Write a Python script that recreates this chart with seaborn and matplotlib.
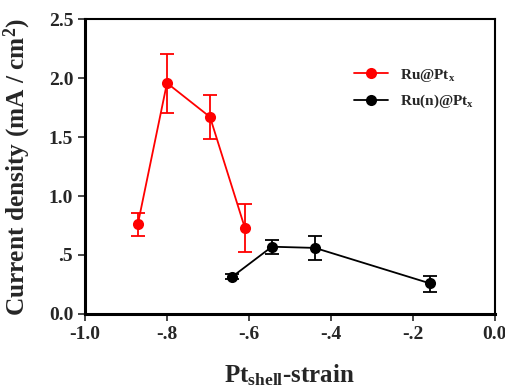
import numpy as np
import pandas as pd
import seaborn as sns
import matplotlib.pyplot as plt

# data
ru_x = [-0.871, -0.80, -0.695, -0.61]
ru_y = [0.763, 1.958, 1.67, 0.73]
ru_lo = [0.66, 1.70, 1.48, 0.525]
ru_hi = [0.856, 2.20, 1.856, 0.93]

run_x = [-0.641, -0.544, -0.439, -0.159]
run_y = [0.315, 0.57, 0.56, 0.26]
run_lo = [0.295, 0.51, 0.46, 0.19]
run_hi = [0.335, 0.63, 0.66, 0.32]

xticks = [-1.0, -0.8, -0.6, -0.4, -0.2, 0.0]
xtick_labels = ['-1.0', '-.8', '-.6', '-.4', '-.2', '0.0']
yticks = [0.0, 0.5, 1.0, 1.5, 2.0, 2.5]
ytick_labels = ['0.0', '.5', '1.0', '1.5', '2.0', '2.5']

sns.set_style("ticks")
plt.rcParams['font.family'] = ['Liberation Serif', 'DejaVu Serif']
plt.rcParams['font.weight'] = 'bold'
plt.rcParams['mathtext.fontset'] = 'custom'
plt.rcParams['mathtext.rm'] = 'Liberation Serif:bold'
plt.rcParams['mathtext.bf'] = 'Liberation Serif:bold'
plt.rcParams['mathtext.default'] = 'bf'

df = pd.concat([
    pd.DataFrame({'x': ru_x, 'y': ru_y, 'lo': ru_lo, 'hi': ru_hi, 'series': r'Ru@Pt$_x$'}),
    pd.DataFrame({'x': run_x, 'y': run_y, 'lo': run_lo, 'hi': run_hi, 'series': r'Ru(n)@Pt$_x$'}),
])

fig = plt.figure(figsize=(5.06, 3.9), dpi=100)
ax = fig.add_axes([0.168, 0.195, 0.810, 0.756])

palette = {r'Ru@Pt$_x$': '#ff0000', r'Ru(n)@Pt$_x$': '#000000'}

for name, sub in df.groupby('series', sort=False):
    c = palette[name]
    ax.errorbar(sub['x'], sub['y'],
                yerr=[sub['y'] - sub['lo'], sub['hi'] - sub['y']],
                fmt='none', ecolor=c, elinewidth=1.3, capsize=5, capthick=1.3, zorder=2)

sns.lineplot(data=df, x='x', y='y', hue='series', palette=palette, marker='o',
             markersize=8, markeredgewidth=0, linewidth=1.3, sort=False,
             estimator=None, ax=ax, zorder=3)

ax.set_xlim(-1.0, 0.0)
ax.set_ylim(0.0, 2.5)
ax.set_xticks(xticks)
ax.set_xticklabels(xtick_labels, fontsize=14, fontweight='bold')
ax.set_yticks(yticks)
ax.set_yticklabels(ytick_labels, fontsize=14, fontweight='bold')
ax.tick_params(direction='out', length=5, width=1.2, top=False, right=False)

for s in ['left', 'bottom']:
    ax.spines[s].set_linewidth(2.2)
for s in ['top', 'right']:
    ax.spines[s].set_linewidth(1.5)
for s in ax.spines.values():
    s.set_color('black')

ax.set_xlabel(r'Pt$_{shell}$-strain', fontsize=18, fontweight='bold')
ax.xaxis.set_label_coords(0.5, -0.163)
ax.set_ylabel(r'Current density (mA / cm$^2$)', fontsize=18.3, fontweight='bold')
ax.yaxis.set_label_coords(-0.127, 0.5)

leg = ax.legend(loc='upper left', bbox_to_anchor=(0.623, 0.885), frameon=False,
                fontsize=11, handlelength=2.2, labelspacing=0.6, title=None)
for t in leg.get_texts():
    t.set_fontweight('bold')

fig.savefig('out.png', dpi=100)
